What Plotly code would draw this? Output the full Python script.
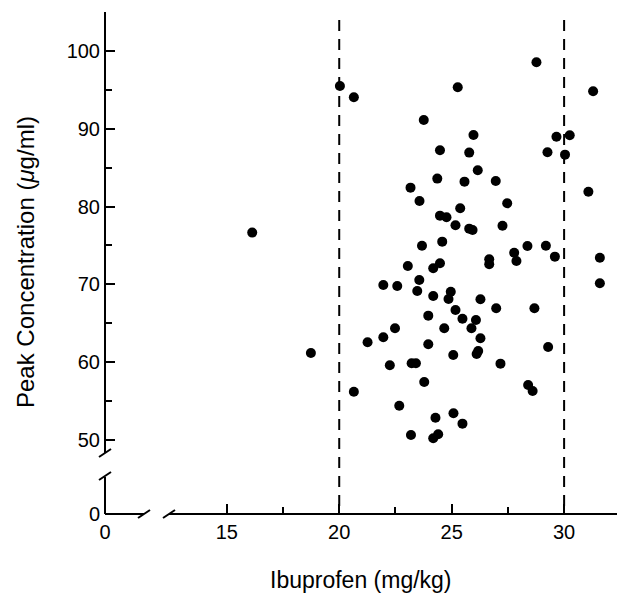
import plotly.graph_objects as go

# ibuprofen dose (mg/kg) vs peak concentration (ug/ml)
dose = [28.77, 20.03, 20.65, 25.27, 31.29, 23.76, 25.97, 29.66, 30.25, 24.48,
        25.78, 29.26, 30.04, 26.16, 24.36, 25.57, 26.96, 23.17, 31.08, 23.57,
        27.47, 25.38, 24.48, 24.77, 25.17, 25.78, 25.93, 27.26, 16.13, 23.68,
        24.58, 27.78, 27.88, 28.37, 29.19, 29.59, 31.59, 23.05, 24.18, 24.48,
        26.67, 26.67, 31.59, 23.56, 21.96, 22.58, 23.47, 24.18, 24.96, 24.86,
        26.28, 26.98, 28.68, 23.96, 25.17, 25.48, 26.08, 25.88, 24.67, 22.48,
        21.96, 21.26, 26.28, 23.96, 25.07, 26.11, 26.18, 29.29, 22.25, 23.22,
        23.41, 27.17, 23.78, 20.65, 28.40, 28.60, 22.67, 24.28, 25.08, 25.48,
        23.19, 24.18, 24.40, 18.74]
peak = [98.55, 95.50, 94.05, 95.33, 94.82, 91.13, 89.20, 88.98, 89.16, 87.24,
        86.93, 86.98, 86.67, 84.67, 83.59, 83.20, 83.29, 82.43, 81.91, 80.72,
        80.42, 79.78, 78.83, 78.62, 77.60, 77.16, 76.99, 77.54, 76.65, 74.97,
        75.49, 74.07, 73.01, 74.94, 74.97, 73.56, 73.43, 72.36, 72.07, 72.71,
        73.23, 72.58, 70.14, 70.57, 69.92, 69.79, 69.15, 68.51, 69.06, 68.12,
        68.08, 66.93, 66.93, 65.98, 66.71, 65.59, 65.42, 64.36, 64.36, 64.36,
        63.20, 62.56, 63.07, 62.30, 60.93, 61.05, 61.44, 61.95, 59.60, 59.86,
        59.86, 59.81, 57.46, 56.21, 57.07, 56.30, 54.41, 52.87, 53.43, 52.10,
        50.64, 50.22, 50.73, 61.18]

x_ticks = [15, 20, 25, 30]
x_minor = [17.5, 22.5, 27.5, 32.5]
y_ticks = [50, 60, 70, 80, 90, 100]
y_minor = [55, 65, 75, 85, 95, 105]
ref_doses = [20, 30]

FONT = "Arial, Liberation Sans, sans-serif"
OFF = 8  # page body margin
W, H = 625 - OFF, 593 - OFF
L, T = 105 - OFF, 12 - OFF
R = W - (621 - OFF)
B = H - (514 - OFF)
pw, ph = W - L - R, H - T - B


def px(x):
    return (x - OFF - L) / pw


def py(y):
    return (H - B - (y - OFF)) / ph


fig = go.Figure()
fig.add_trace(go.Scatter(x=dose, y=peak, mode="markers",
                         marker=dict(size=10, color="black"),
                         xaxis="x", yaxis="y", showlegend=False))
# invisible trace for the broken-off zero segments
fig.add_trace(go.Scatter(x=[0], y=[0], mode="markers", marker=dict(opacity=0),
                         xaxis="x2", yaxis="y2", showlegend=False, hoverinfo="skip"))

axis_common = dict(showline=True, linewidth=2, linecolor="black", showgrid=False,
                   zeroline=False, ticks="inside", ticklen=9, tickwidth=1.5,
                   tickcolor="black", automargin=False, anchor="free", position=0,
                   tickfont=dict(family=FONT, size=20, color="black"))
minor_common = dict(ticklen=6, tickwidth=1.5, tickcolor="black", ticks="inside")

fig.update_layout(
    width=W, height=H,
    margin=dict(l=L, r=R, t=T, b=B, autoexpand=False),
    plot_bgcolor="white", paper_bgcolor="white",
    xaxis=dict(**axis_common, domain=[px(169), 1], range=[12.43, 32.53],
               tickmode="array", tickvals=x_ticks,
               minor=dict(tickmode="array", tickvals=x_minor, **minor_common)),
    xaxis2=dict(**axis_common, domain=[0, px(144)], range=[0, 1.5],
                tickmode="array", tickvals=[0]),
    yaxis=dict(**axis_common, domain=[py(453), 1], range=[48.33, 105.0],
               tickmode="array", tickvals=y_ticks,
               minor=dict(tickmode="array", tickvals=y_minor, **minor_common)),
    yaxis2=dict(**axis_common, domain=[0, py(477)], range=[0, 4.7],
                tickmode="array", tickvals=[0]),
)
fig.update_layout(xaxis2_ticklen=0, yaxis2_ticklen=0)

# axis titles, centred on the full (broken) axes
fig.add_annotation(text="Ibuprofen (mg/kg)", xref="paper", yref="paper",
                   x=px(361), y=py(580), xanchor="center", yanchor="middle",
                   showarrow=False, font=dict(family=FONT, size=23, color="black"))
fig.add_annotation(text="Peak Concentration (<i>μ</i>g/ml)", xref="paper", yref="paper",
                   x=px(25), y=py(262), xanchor="center", yanchor="middle",
                   showarrow=False, textangle=-90,
                   font=dict(family=FONT, size=24, color="black"))

# dashed reference lines at 20 and 30 mg/kg
for d in ref_doses:
    fig.add_shape(type="line", xref="x", yref="paper", x0=d, x1=d,
                  y0=py(20), y1=0, line=dict(color="black", width=2, dash="11px,8px"))

# axis break marks
for (x0, y0, x1, y1) in [(99, 457, 111, 449), (99, 480, 111, 472),
                         (138, 518, 150, 510), (163, 518, 175, 510)]:
    fig.add_shape(type="line", xref="paper", yref="paper",
                  x0=px(x0), y0=py(y0), x1=px(x1), y1=py(y1),
                  line=dict(color="black", width=2))

fig.write_html("out.html")
